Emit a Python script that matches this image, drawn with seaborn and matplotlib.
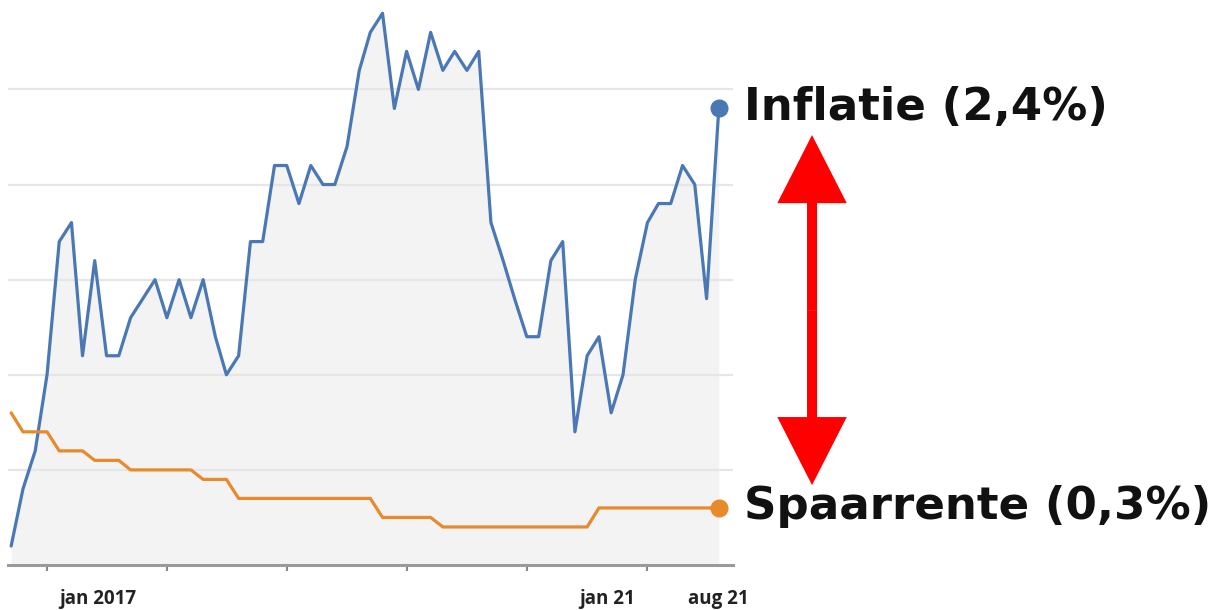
import numpy as np
import pandas as pd
import seaborn as sns
import matplotlib.pyplot as plt
import matplotlib.transforms as mtransforms
from matplotlib.patches import FancyArrowPatch

#%% data (monthly, sep 2016 - aug 2021)
months = pd.date_range('2016-09-01', periods=60, freq='MS')
inflatie = [0.1, 0.4, 0.6, 1.0, 1.7, 1.8, 1.1, 1.6, 1.1, 1.1,
            1.3, 1.4, 1.5, 1.3, 1.5, 1.3, 1.5, 1.2, 1.0, 1.1,
            1.7, 1.7, 2.1, 2.1, 1.9, 2.1, 2.0, 2.0, 2.2, 2.6,
            2.8, 2.9, 2.4, 2.7, 2.5, 2.8, 2.6, 2.7, 2.6, 2.7,
            1.8, 1.6, 1.4, 1.2, 1.2, 1.6, 1.7, 0.7, 1.1, 1.2,
            0.8, 1.0, 1.5, 1.8, 1.9, 1.9, 2.1, 2.0, 1.4, 2.4]
spaarrente = [0.8, 0.7, 0.7, 0.7, 0.6, 0.6, 0.6, 0.55, 0.55, 0.55,
              0.5, 0.5, 0.5, 0.5, 0.5, 0.5, 0.45, 0.45, 0.45, 0.35,
              0.35, 0.35, 0.35, 0.35, 0.35, 0.35, 0.35, 0.35, 0.35, 0.35,
              0.35, 0.25, 0.25, 0.25, 0.25, 0.25, 0.2, 0.2, 0.2, 0.2,
              0.2, 0.2, 0.2, 0.2, 0.2, 0.2, 0.2, 0.2, 0.2, 0.3,
              0.3, 0.3, 0.3, 0.3, 0.3, 0.3, 0.3, 0.3, 0.3, 0.3]
series_names = ['Inflatie', 'Spaarrente']
tick_labels = ['jan 2017', 'jan 21', 'aug 21']
tick_dates = pd.to_datetime(['2017-01-01', '2021-01-01', '2021-08-01'])

mycmap = {'Inflatie': '#4a78b5', 'Spaarrente': '#e8892b'}

df = pd.DataFrame({'maand': np.concatenate([months, months]),
                   'waarde': inflatie + spaarrente,
                   'reeks': ['Inflatie'] * len(months) + ['Spaarrente'] * len(months)})

#%% plot
sns.set_style('white')
plt.rcParams['font.family'] = ['Open Sans', 'DejaVu Sans']

fig = plt.figure(figsize=(12.23, 6.10), dpi=100)
ax = fig.add_axes([8 / 1223, 45 / 610, 725 / 1223, 565 / 610])

ax.fill_between(months, inflatie, 0, color='#f3f3f3', linewidth=0, zorder=1)
sns.lineplot(data=df, x='maand', y='waarde', hue='reeks', palette=mycmap,
             linewidth=2.3, legend=False, ax=ax, zorder=2,
             solid_joinstyle='round', solid_capstyle='round')

# end points + labels
for name, vals in zip(series_names, [inflatie, spaarrente]):
    ax.plot(months[-1], vals[-1], 'o', color=mycmap[name], markersize=12, zorder=3, clip_on=False)
    txt = name + ' (' + str(vals[-1]).replace('.', ',') + '%)'
    ax.annotate(txt, xy=(months[-1], vals[-1]), xytext=(18, -8), textcoords='offset points',
                va='baseline', ha='left', fontsize=32.5, fontweight='bold', color='#111111',
                family='DejaVu Sans', annotation_clip=False)

# red double arrow between the labels
trans = mtransforms.blended_transform_factory(ax.transAxes, ax.transData)
y_mid = 1.34
for y_tip in [2.26, 0.42]:
    arr = FancyArrowPatch((1.109, y_mid), (1.109, y_tip), transform=trans,
                          arrowstyle='simple,head_length=49,head_width=50,tail_width=7.2',
                          mutation_scale=1, color='#ff0000', linewidth=0,
                          shrinkA=0, shrinkB=0, clip_on=False)
    ax.add_patch(arr)

ax.set_ylim(0, 2.97)
ax.set_xlim(months[0] - pd.Timedelta(days=8), months[-1] + pd.Timedelta(days=36))
ax.set_yticks([0.5, 1.0, 1.5, 2.0, 2.5])
ax.set_yticklabels([])
ax.grid(axis='y', color='#e6e6e6', linewidth=1.6)
ax.set_axisbelow('line')
ax.tick_params(axis='y', length=0)

ax.set_xticks(tick_dates)
ax.set_xticklabels(tick_labels, fontsize=13.5, fontweight='bold', color='#222222')
for lab, ha in zip(ax.get_xticklabels(), ['left', 'right', 'center']):
    lab.set_ha(ha)
ax.set_xticks(months[3::10], minor=True)
ax.tick_params(axis='x', which='major', length=0, pad=17, bottom=True)
ax.tick_params(axis='x', which='minor', length=4, width=1.5, color='#888888',
               direction='out', bottom=True)
ax.set_xlabel('')
ax.set_ylabel('')

for s in ['top', 'right', 'left']:
    ax.spines[s].set_visible(False)
ax.spines['bottom'].set_color('#9a9a9a')
ax.spines['bottom'].set_linewidth(2.2)

plt.savefig('out.png', dpi=100)
